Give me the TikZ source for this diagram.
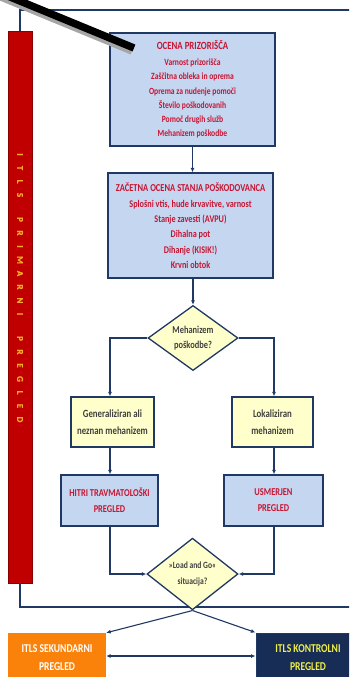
\documentclass[tikz,border=0pt]{standalone}
\usepackage{fontspec}
\setmainfont{Carlito}[FakeStretch=0.8]
\newfontfamily\barfont{Carlito}[FakeBold=1.2]
\usetikzlibrary{arrows.meta,shapes.geometric}
\definecolor{navyline}{RGB}{31,56,100}
\definecolor{boxblue}{RGB}{197,215,240}
\definecolor{boxyellow}{RGB}{255,255,204}
\definecolor{boxred}{RGB}{200,20,50}
\definecolor{textgray}{RGB}{64,64,64}
\definecolor{barred}{RGB}{192,0,0}
\definecolor{bartext}{RGB}{248,170,40}
\definecolor{orangebox}{RGB}{250,130,10}
\definecolor{navybox}{RGB}{23,45,85}
\definecolor{yellowtext}{RGB}{240,240,70}
\newcommand{\fs}[2]{\fontsize{#1}{#2}\selectfont}
\newcommand{\bl}[1]{\makebox[13.5pt]{#1}}
\newcommand{\wg}{\hspace{11pt}}
\begin{document}
\begin{tikzpicture}[x=1pt,y=-1pt,
  bluebox/.style={draw=navyline, line width=1.4pt, fill=boxblue, align=center, inner sep=0pt, text=boxred},
  yelbox/.style={draw=navyline, line width=1.4pt, fill=boxyellow, align=center, inner sep=0pt, text=textgray, font=\bfseries\fs{11}{17}},
  decision/.style={diamond, draw=navyline, line width=1.3pt, fill=boxyellow, align=center, inner sep=0pt, text=textgray},
  conn/.style={draw=navyline, line width=1.1pt, -{Latex[length=4.5pt,width=4pt]}},
  conn2/.style={draw=navyline, line width=1.1pt, {Latex[length=4.5pt,width=4pt]}-{Latex[length=4.5pt,width=4pt]}},
  frame/.style={draw=navyline, line width=1.6pt},
  endbox/.style={align=center, inner sep=0pt, font=\bfseries\fs{12}{18}}]
\useasboundingbox (0,0) rectangle (349,677);
\fill[white] (0,0) rectangle (349,677);
\clip (0,0) rectangle (349,677);

% left bar
\node[draw=barred!70!black, line width=0.6pt, fill=barred, minimum width=24pt, minimum height=552pt, inner sep=0pt] (bar) at (20,307) {};
\node[rotate=-90, text=bartext, font=\barfont\bfseries\fs{9}{10}, inner sep=0pt] (bartxt) at (20,287)
  {\bl{I}\bl{T}\bl{L}\bl{S}\wg\bl{P}\bl{R}\bl{I}\bl{M}\bl{A}\bl{R}\bl{N}\bl{I}\wg\bl{P}\bl{R}\bl{E}\bl{G}\bl{L}\bl{E}\bl{D}};

% frame
\coordinate (tr) at (360,10);
\coordinate (br) at (360,607);
\draw[frame] (bar.north) |- (tr);
\draw[frame] (bar.south) |- (br);

% top boxes
\node[bluebox, minimum width=165pt, minimum height=113pt, font=\bfseries\fs{9.5}{14.2}] (b1) at (192.5,89.5)
  {{\fs{11}{14}OCENA PRIZORIŠČA}\\[1.5pt]
   Varnost prizorišča\\ Zaščitna obleka in oprema\\ Oprema za nudenje pomoči\\
   Število poškodovanih\\ Pomoč drugih služb\\ Mehanizem poškodbe};
\node[bluebox, minimum width=165pt, minimum height=105pt, font=\bfseries\fs{10.25}{15.3}] (b2) at (190.5,225.5)
  {{\fs{10.6}{15}ZAČETNA OCENA STANJA POŠKODOVANCA}\\[0.5pt]
   Splošni vtis, hude krvavitve, varnost\\ Stanje zavesti (AVPU)\\ Dihalna pot\\
   Dihanje (KISIK!)\\ Krvni obtok};

% decision 1
\node[decision, minimum width=90pt, minimum height=64pt, font=\bfseries\fs{10.5}{15}] (d1) at (193,338)
  {Mehanizem\\ poškodbe?};

% columns
\coordinate (cl) at (110,0);
\coordinate (cr) at (274,0);

\node[yelbox, minimum width=83pt, minimum height=50pt] (y1) at (112.5,422) {Generaliziran ali\\ neznan mehanizem};
\node[yelbox, minimum width=81pt, minimum height=50pt] (y2) at (272.5,422) {Lokaliziran\\ mehanizem};

\node[bluebox, minimum width=97pt, minimum height=51pt, font=\bfseries\fs{10.5}{16}] (h1) at (109.5,500.5) {HITRI TRAVMATOLOŠKI\\ PREGLED};
\node[bluebox, minimum width=99pt, minimum height=51pt, font=\bfseries\fs{10.5}{16}] (h2) at (273.5,500.5) {USMERJEN\\ PREGLED};

% decision 2
\node[decision, minimum width=91pt, minimum height=64pt, font=\bfseries\fs{9.5}{16}] (d2) at (192.5,574)
  {»Load and Go«\\ situacija?};

% end boxes
\node[endbox, fill=orangebox, text=white, minimum width=98pt, minimum height=50pt] (o) at (57,658) {ITLS SEKUNDARNI\\ PREGLED};
\node[endbox, draw=navyline, line width=1pt, fill=navybox, text=yellowtext, minimum width=104pt, minimum height=50pt] (n) at (308,658) {ITLS KONTROLNI\\ PREGLED};

% connectors
\draw[conn] (b1.south) -- (b1.south |- b2.north);
\draw[conn] (b2.south -| d1.north) -- (d1.north);
\draw[conn] (d1.west) -| (cl |- y1.north);
\draw[conn] (d1.east) -| (cr |- y2.north);
\draw[conn] (cl |- y1.south) -- (cl |- h1.north);
\draw[conn] (cr |- y2.south) -- (cr |- h2.north);
\draw[conn] (cl |- h1.south) |- (d2.west);
\draw[conn] (cr |- h2.south) |- (d2.east);
\draw[conn] (d2.south) -- (o.north east);
\draw[conn] (d2.south) -- (n.north west);
\draw[conn2] ([yshift=2pt]o.east) -- ([yshift=2pt]o.east -| n.west);

% pointer stroke
\coordinate (p1) at (-2,-8);
\coordinate (p2) at (134,48);
\draw[gray!70, line width=7.4pt] ([shift={(-2,3)}]p1) -- ([shift={(-2,3)}]p2);
\draw[black, line width=7.4pt] (p1) -- (p2);
\end{tikzpicture}
\end{document}
